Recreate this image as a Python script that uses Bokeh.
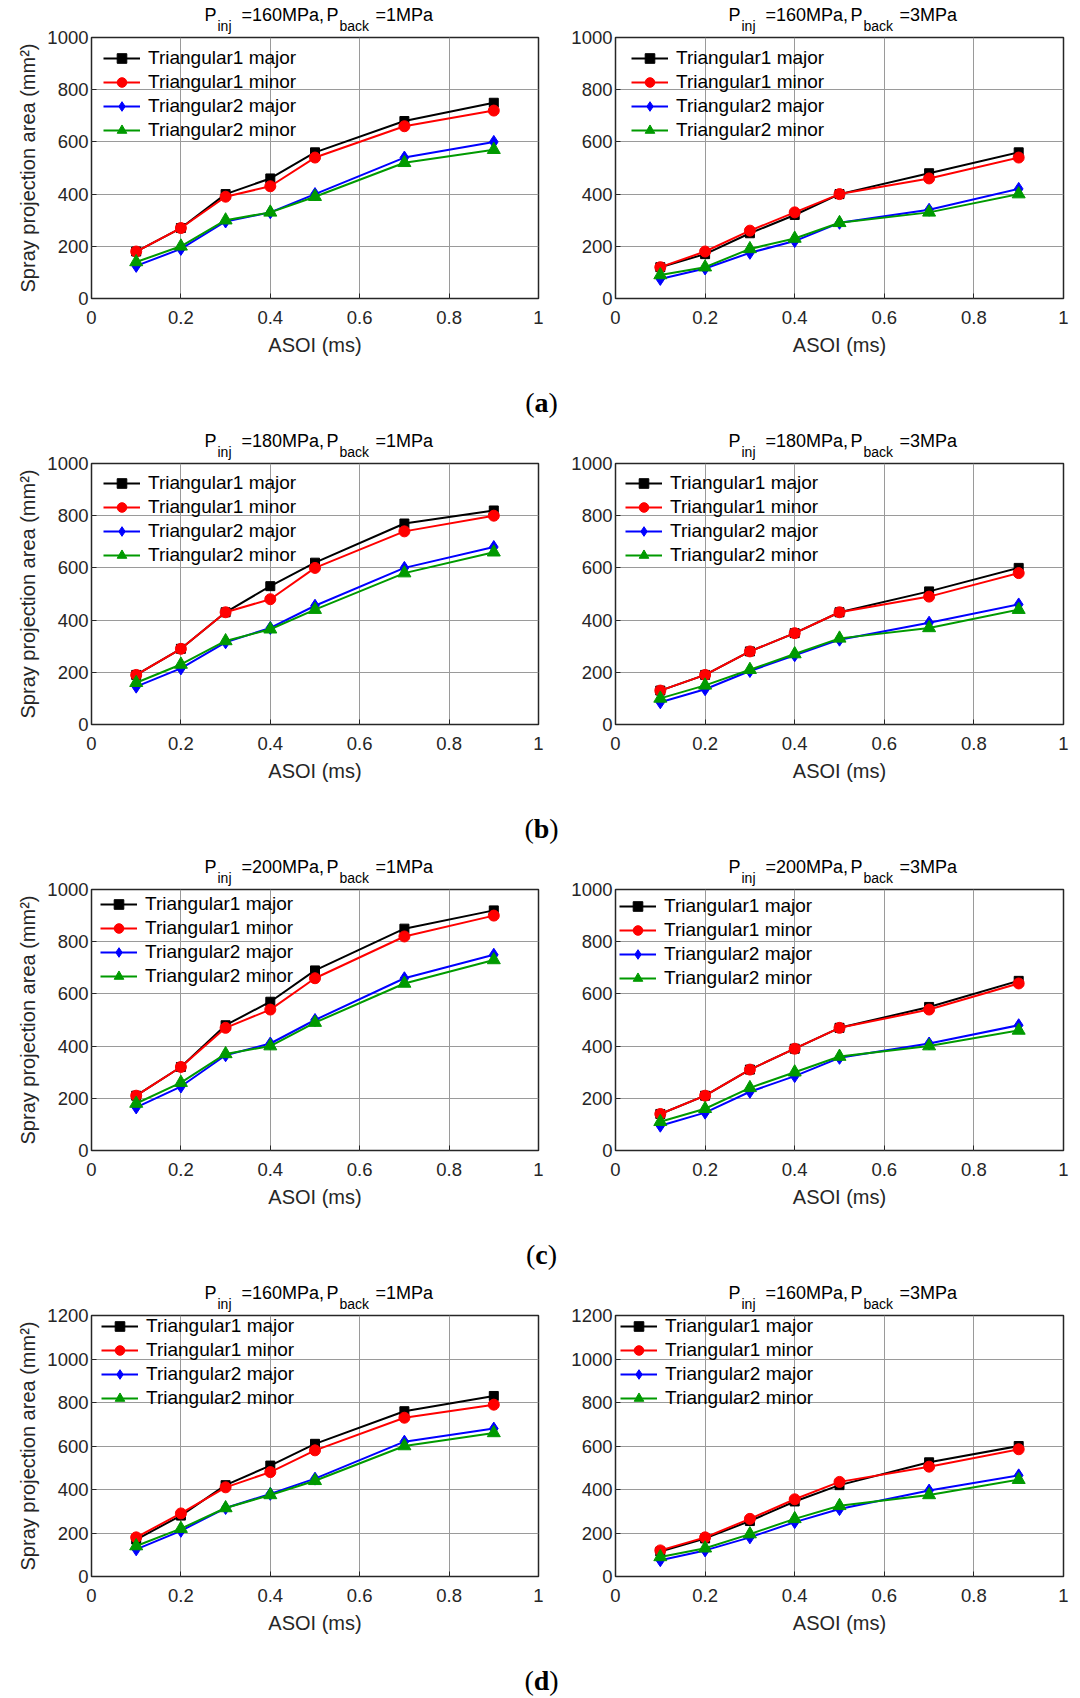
from bokeh.embed import file_html
from bokeh.layouts import column, row
from bokeh.models import (CustomJSTickFormatter, Div, FixedTicker, Legend,
                          LegendItem, LinearAxis, Range1d)
from bokeh.plotting import figure
from bokeh.resources import INLINE

# ---------------------------------------------------------------- data
asoi = [0.1, 0.2, 0.3, 0.4, 0.5, 0.7, 0.9]          # ms after start of injection
x_ticks = [0, 0.2, 0.4, 0.6, 0.8, 1.0]
y_ticks_1000 = [0, 200, 400, 600, 800, 1000]
y_ticks_1200 = [0, 200, 400, 600, 800, 1000, 1200]

series_names = ["Triangular1 major", "Triangular1 minor",
                "Triangular2 major", "Triangular2 minor"]
series_colors = ["#000000", "#ff0000", "#0000ff", "#009a00"]
series_markers = ["square", "circle", "diamond", "triangle"]
series_sizes = [9, 11, 13, 13]

# (a) Pinj = 160 MPa
a_b1_t1_major = [180, 270, 400, 460, 560, 680, 750]
a_b1_t1_minor = [180, 270, 390, 430, 540, 660, 720]
a_b1_t2_major = [125, 190, 295, 330, 400, 540, 600]
a_b1_t2_minor = [140, 200, 300, 330, 390, 520, 570]

a_b3_t1_major = [120, 170, 250, 320, 400, 480, 560]
a_b3_t1_minor = [120, 180, 260, 330, 400, 460, 540]
a_b3_t2_major = [75, 115, 175, 220, 290, 340, 420]
a_b3_t2_minor = [90, 120, 190, 230, 290, 330, 400]

# (b) Pinj = 180 MPa
b_b1_t1_major = [190, 290, 430, 530, 620, 770, 820]
b_b1_t1_minor = [190, 290, 430, 480, 600, 740, 800]
b_b1_t2_major = [145, 215, 315, 370, 455, 600, 680]
b_b1_t2_minor = [160, 230, 320, 365, 440, 580, 660]

b_b3_t1_major = [130, 190, 280, 350, 430, 510, 600]
b_b3_t1_minor = [130, 190, 280, 350, 430, 490, 580]
b_b3_t2_major = [85, 135, 205, 265, 325, 390, 460]
b_b3_t2_minor = [100, 150, 210, 270, 330, 370, 440]

# (c) Pinj = 200 MPa
c_b1_t1_major = [210, 320, 480, 570, 690, 850, 920]
c_b1_t1_minor = [210, 320, 470, 540, 660, 820, 900]
c_b1_t2_major = [165, 245, 365, 410, 500, 660, 750]
c_b1_t2_minor = [180, 260, 370, 400, 490, 640, 730]

c_b3_t1_major = [140, 210, 310, 390, 470, 550, 650]
c_b3_t1_minor = [140, 210, 310, 390, 470, 540, 640]
c_b3_t2_major = [95, 145, 225, 285, 355, 410, 480]
c_b3_t2_minor = [110, 160, 240, 300, 360, 400, 460]

# (d) Pinj = 160 MPa
d_b1_t1_major = [170, 280, 420, 510, 610, 760, 830]
d_b1_t1_minor = [180, 290, 410, 480, 580, 730, 790]
d_b1_t2_major = [125, 210, 315, 380, 450, 620, 680]
d_b1_t2_minor = [140, 220, 315, 375, 440, 600, 660]

d_b3_t1_major = [115, 175, 255, 345, 420, 525, 600]
d_b3_t1_minor = [120, 180, 265, 355, 435, 505, 585]
d_b3_t2_major = [75, 120, 180, 250, 310, 395, 465]
d_b3_t2_minor = [90, 130, 195, 265, 325, 375, 445]

# ---------------------------------------------------------------- geometry
FIG_H = 380
BORDER_TOP = 37
FRAME_H = 261
BORDER_BOTTOM = FIG_H - BORDER_TOP - FRAME_H
LEFT_W, LEFT_BL, LEFT_BR = 548, 91, 10
RIGHT_W, RIGHT_BL, RIGHT_BR = 532, 67, 17

AXIS_COLOR = "#262626"
FONT = "Liberation Sans"

# advance widths (1/1000 em) of the sans face, used to centre title pieces
ADV = {"P": 667, "i": 222, "n": 556, "j": 222, "b": 556, "a": 556, "c": 500,
       "k": 500, "=": 584, "M": 833, ",": 278, "0": 556, "1": 556, "2": 556,
       "3": 556, "6": 556, "8": 556}


def text_width(s, size):
    return sum(ADV.get(ch, 556) for ch in s) * size / 1000.0


def piece_axis(p, pieces, size, standoff, fw):
    """An axis above the frame whose tick labels are pieces of the title."""
    pos = [(x0 + text_width(t, size) / 2) / fw for t, x0 in pieces]
    txt = [t for t, _ in pieces]
    ax = LinearAxis(
        ticker=FixedTicker(ticks=pos),
        formatter=CustomJSTickFormatter(args=dict(pos=pos, txt=txt), code="""
            for (let i = 0; i < pos.length; i++) {
                if (Math.abs(pos[i] - tick) < 1e-6) return txt[i];
            }
            return "";
        """),
        axis_line_color=None, major_tick_line_color=None,
        minor_tick_line_color=None, major_tick_in=0, major_tick_out=0,
        major_label_standoff=standoff, major_label_text_font=FONT,
        major_label_text_font_size=f"{size}px",
        major_label_text_color="#000000")
    p.add_layout(ax, "above")


def make_panel(pinj, pback, y_ticks, values, legend_pos, left):
    if left:
        w, bl, br = LEFT_W, LEFT_BL, LEFT_BR
    else:
        w, bl, br = RIGHT_W, RIGHT_BL, RIGHT_BR
    fw = w - bl - br

    p = figure(width=w, height=FIG_H,
               min_border_left=bl, min_border_right=br,
               min_border_top=BORDER_TOP, min_border_bottom=BORDER_BOTTOM,
               x_range=Range1d(0, 1), y_range=Range1d(0, y_ticks[-1]),
               output_backend="svg", toolbar_location=None,
               background_fill_color="white", border_fill_color="white")

    p.xaxis.ticker = FixedTicker(ticks=x_ticks)
    p.xaxis.formatter = CustomJSTickFormatter(
        code="return String(Math.round(tick * 10) / 10);")
    p.yaxis.ticker = FixedTicker(ticks=y_ticks)
    for ax in (p.xaxis[0], p.yaxis[0]):
        ax.axis_line_color = None
        ax.major_tick_in = 5
        ax.major_tick_out = 0
        ax.major_tick_line_color = AXIS_COLOR
        ax.minor_tick_line_color = None
        ax.major_label_text_font = FONT
        ax.major_label_text_font_size = "18.5px"
        ax.major_label_text_color = AXIS_COLOR
        ax.axis_label_text_font = FONT
        ax.axis_label_text_font_size = "20px"
        ax.axis_label_text_font_style = "normal"
        ax.axis_label_text_color = AXIS_COLOR
    p.xaxis.major_label_standoff = 12
    p.yaxis.major_label_standoff = 3
    p.xaxis.axis_label = "ASOI (ms)"
    p.xaxis.axis_label_standoff = 7
    if left:
        p.yaxis.axis_label = "Spray projection area (mm²)"
        p.yaxis.axis_label_standoff = 5

    p.grid.grid_line_color = "#9a9a9a"
    p.grid.grid_line_width = 1
    p.outline_line_color = AXIS_COLOR
    p.outline_line_width = 1.5

    items = []
    for name, vals, color, marker, size in zip(series_names, values,
                                               series_colors, series_markers,
                                               series_sizes):
        lr = p.line(asoi, vals, line_color=color, line_width=2)
        sr = p.scatter(asoi, vals, marker=marker, size=size,
                       fill_color=color, line_color=color)
        items.append(LegendItem(label=name, renderers=[lr, sr]))

    item_h = 24
    lx, first_row = legend_pos
    top = first_row - item_h / 2
    legend = Legend(items=items,
                    location=(lx, FRAME_H - top - 4 * item_h),
                    glyph_width=37, glyph_height=item_h, label_height=item_h,
                    label_standoff=8, spacing=0, padding=0, margin=0,
                    label_text_font=FONT, label_text_font_size="19px",
                    label_text_color="#000000",
                    background_fill_alpha=0, border_line_alpha=0)
    p.add_layout(legend)

    # title P_inj =...MPa, P_back =...MPa : subscripts nearest the frame,
    # main pieces stacked above them
    piece_axis(p, [("inj", 126), ("back", 248)], 14, 4, fw)
    piece_axis(p, [("P", 113), (f"={pinj}MPa,", 150), ("P", 235),
                   (f"={pback}MPa", 284)], 18, -10, fw)
    return p


def caption(letter, h):
    html = (f'<div style="width:1080px;height:{h}px;line-height:46px;'
            f'text-align:center;font-family:\'Liberation Serif\';'
            f'font-size:28px;color:#000000;padding-left:3px;">'
            f'(<b>{letter}</b>)</div>')
    return Div(text=html, width=1080, height=h, margin=0)


rows_spec = [
    ("a", "160", y_ticks_1000,
     [a_b1_t1_major, a_b1_t1_minor, a_b1_t2_major, a_b1_t2_minor], (12, 20.8),
     [a_b3_t1_major, a_b3_t1_minor, a_b3_t2_major, a_b3_t2_minor], (16, 20.8)),
    ("b", "180", y_ticks_1000,
     [b_b1_t1_major, b_b1_t1_minor, b_b1_t2_major, b_b1_t2_minor], (12, 20),
     [b_b3_t1_major, b_b3_t1_minor, b_b3_t2_major, b_b3_t2_minor], (10, 20)),
    ("c", "200", y_ticks_1000,
     [c_b1_t1_major, c_b1_t1_minor, c_b1_t2_major, c_b1_t2_minor], (9, 14.6),
     [c_b3_t1_major, c_b3_t1_minor, c_b3_t2_major, c_b3_t2_minor], (4, 17.3)),
    ("d", "160", y_ticks_1200,
     [d_b1_t1_major, d_b1_t1_minor, d_b1_t2_major, d_b1_t2_minor], (10, 11),
     [d_b3_t1_major, d_b3_t1_minor, d_b3_t2_major, d_b3_t2_minor], (5, 11)),
]

children = []
for i, (letter, pinj, yt, left_vals, left_leg, right_vals, right_leg) in enumerate(rows_spec):
    pl = make_panel(pinj, "1", yt, left_vals, left_leg, left=True)
    pr = make_panel(pinj, "3", yt, right_vals, right_leg, left=False)
    children.append(row(pl, pr))
    children.append(caption(letter, 40 if i == len(rows_spec) - 1 else 46))

layout = column(*children)

with open("out.html", "w") as f:
    f.write(file_html(layout, INLINE))
